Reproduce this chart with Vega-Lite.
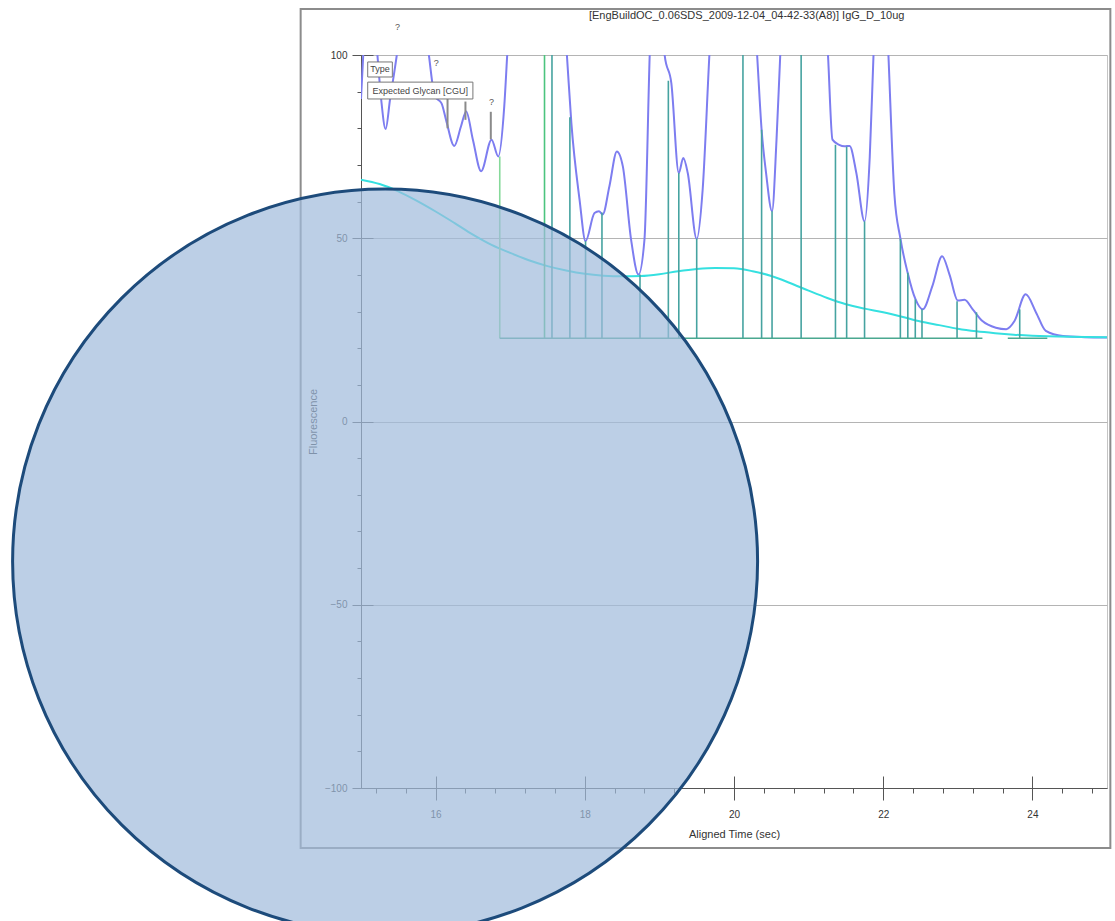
{
  "$schema": "https://vega.github.io/schema/vega-lite/v6.json",
  "width": 746,
  "height": 733,
  "autosize": {"type": "none"},
  "padding": {"left": 361, "top": 55, "right": 8, "bottom": 133},
  "background": "white",
  "config": {
    "view": {"stroke": "#c4c4c4", "strokeWidth": 1},
    "axis": {"labelFont": "Liberation Sans", "titleFont": "Liberation Sans", "labelColor": "#333333", "titleColor": "#333333", "titleFontWeight": "normal", "domainColor": "#555555", "tickColor": "#555555", "labelFontSize": 10, "titleFontSize": 11}
  },
  "datasets": {
    "signal": [
      {"t": 15.00, "f": 88}, {"t": 15.03, "f": 100}, {"t": 15.12, "f": 125}, {"t": 15.22, "f": 100},
      {"t": 15.27, "f": 88}, {"t": 15.33, "f": 79.8}, {"t": 15.39, "f": 88}, {"t": 15.48, "f": 100},
      {"t": 15.70, "f": 140}, {"t": 15.91, "f": 100}, {"t": 15.99, "f": 88.7}, {"t": 16.08, "f": 86.8},
      {"t": 16.14, "f": 82.3}, {"t": 16.25, "f": 75.2}, {"t": 16.34, "f": 80.5}, {"t": 16.41, "f": 84.6},
      {"t": 16.50, "f": 76.9}, {"t": 16.61, "f": 68.3}, {"t": 16.75, "f": 76.9}, {"t": 16.84, "f": 72.3},
      {"t": 16.92, "f": 85.9}, {"t": 16.96, "f": 100}, {"t": 17.30, "f": 200}, {"t": 17.76, "f": 100},
      {"t": 17.82, "f": 81.4}, {"t": 17.93, "f": 60.5}, {"t": 18.01, "f": 49.2}, {"t": 18.13, "f": 56.9},
      {"t": 18.19, "f": 57.4}, {"t": 18.24, "f": 56.5}, {"t": 18.33, "f": 64.2}, {"t": 18.43, "f": 73.7},
      {"t": 18.51, "f": 69.6}, {"t": 18.62, "f": 49.7}, {"t": 18.72, "f": 40.1}, {"t": 18.80, "f": 49.7},
      {"t": 18.87, "f": 100}, {"t": 18.97, "f": 150}, {"t": 19.07, "f": 100}, {"t": 19.16, "f": 92.3},
      {"t": 19.26, "f": 67.8}, {"t": 19.32, "f": 71.9}, {"t": 19.38, "f": 67.8}, {"t": 19.50, "f": 49.8},
      {"t": 19.58, "f": 63.3}, {"t": 19.67, "f": 100}, {"t": 20.00, "f": 200}, {"t": 20.31, "f": 100},
      {"t": 20.37, "f": 79.6}, {"t": 20.43, "f": 67.8}, {"t": 20.51, "f": 57.4}, {"t": 20.57, "f": 76.9},
      {"t": 20.62, "f": 100}, {"t": 20.95, "f": 200}, {"t": 21.26, "f": 100}, {"t": 21.32, "f": 76.9},
      {"t": 21.41, "f": 75.5}, {"t": 21.48, "f": 75.1}, {"t": 21.55, "f": 75.2}, {"t": 21.64, "f": 67.8},
      {"t": 21.75, "f": 54.6}, {"t": 21.82, "f": 72.3}, {"t": 21.87, "f": 100}, {"t": 21.97, "f": 150},
      {"t": 22.07, "f": 100}, {"t": 22.15, "f": 62}, {"t": 22.23, "f": 50}, {"t": 22.33, "f": 40.4},
      {"t": 22.43, "f": 33.5}, {"t": 22.53, "f": 30.6}, {"t": 22.66, "f": 37}, {"t": 22.79, "f": 45.1},
      {"t": 22.89, "f": 40}, {"t": 23.00, "f": 33}, {"t": 23.09, "f": 33.2}, {"t": 23.20, "f": 30.6},
      {"t": 23.33, "f": 27.4}, {"t": 23.51, "f": 25.6}, {"t": 23.65, "f": 25.2}, {"t": 23.76, "f": 27.4},
      {"t": 23.91, "f": 34.7}, {"t": 24.05, "f": 29.7}, {"t": 24.18, "f": 24.7}, {"t": 24.41, "f": 23.3},
      {"t": 24.70, "f": 23.0}, {"t": 25.00, "f": 22.9}
    ],
    "expected": [
      {"t": 15.00, "f": 66}, {"t": 15.25, "f": 64.8}, {"t": 15.50, "f": 62.8}, {"t": 15.75, "f": 60.2},
      {"t": 16.00, "f": 57.3}, {"t": 16.25, "f": 54.2}, {"t": 16.50, "f": 51}, {"t": 16.75, "f": 48.2},
      {"t": 17.00, "f": 46}, {"t": 17.25, "f": 44}, {"t": 17.50, "f": 42.4}, {"t": 17.75, "f": 41.2},
      {"t": 18.00, "f": 40.3}, {"t": 18.25, "f": 39.8}, {"t": 18.50, "f": 39.6}, {"t": 18.75, "f": 39.7},
      {"t": 19.00, "f": 40.2}, {"t": 19.25, "f": 41}, {"t": 19.50, "f": 41.6}, {"t": 19.75, "f": 41.9},
      {"t": 20.00, "f": 41.8}, {"t": 20.25, "f": 41.0}, {"t": 20.50, "f": 39.7}, {"t": 20.75, "f": 37.8},
      {"t": 21.00, "f": 35.7}, {"t": 21.25, "f": 33.7}, {"t": 21.50, "f": 32}, {"t": 21.75, "f": 30.8},
      {"t": 22.00, "f": 29.8}, {"t": 22.25, "f": 28.6}, {"t": 22.50, "f": 27.3}, {"t": 22.75, "f": 26.3},
      {"t": 23.00, "f": 25.3}, {"t": 23.25, "f": 24.6}, {"t": 23.50, "f": 24.1}, {"t": 23.75, "f": 23.7},
      {"t": 24.00, "f": 23.4}, {"t": 24.50, "f": 23.1}, {"t": 25.00, "f": 23.0}
    ],
    "peaks": [
      {"t": 16.86, "top": 72.3, "base": 22.7, "kind": "light"},
      {"t": 17.46, "top": 100, "base": 22.7, "kind": "green"},
      {"t": 17.56, "top": 100, "base": 22.7, "kind": "teal"},
      {"t": 17.80, "top": 83, "base": 22.7, "kind": "teal"},
      {"t": 18.01, "top": 49.2, "base": 22.7, "kind": "teal"},
      {"t": 18.23, "top": 57, "base": 22.7, "kind": "teal"},
      {"t": 18.74, "top": 40.1, "base": 22.7, "kind": "teal"},
      {"t": 19.12, "top": 93, "base": 22.7, "kind": "teal"},
      {"t": 19.26, "top": 67.8, "base": 22.7, "kind": "teal"},
      {"t": 19.50, "top": 49.9, "base": 22.7, "kind": "teal"},
      {"t": 20.12, "top": 100, "base": 22.7, "kind": "teal"},
      {"t": 20.37, "top": 79.6, "base": 22.7, "kind": "teal"},
      {"t": 20.51, "top": 57.4, "base": 22.7, "kind": "teal"},
      {"t": 20.90, "top": 100, "base": 22.7, "kind": "teal"},
      {"t": 21.36, "top": 75.5, "base": 22.7, "kind": "teal"},
      {"t": 21.51, "top": 75, "base": 22.7, "kind": "teal"},
      {"t": 21.75, "top": 54.6, "base": 22.7, "kind": "teal"},
      {"t": 22.23, "top": 49.8, "base": 22.7, "kind": "teal"},
      {"t": 22.33, "top": 40.6, "base": 22.7, "kind": "teal"},
      {"t": 22.43, "top": 33.3, "base": 22.7, "kind": "teal"},
      {"t": 22.52, "top": 30.6, "base": 22.7, "kind": "teal"},
      {"t": 22.99, "top": 32.8, "base": 22.7, "kind": "teal"},
      {"t": 23.25, "top": 29.8, "base": 22.7, "kind": "teal"},
      {"t": 23.83, "top": 30.6, "base": 22.7, "kind": "teal"}
    ],
    "baseline": [
      {"t1": 16.86, "t2": 23.33, "f": 22.7},
      {"t1": 23.67, "t2": 24.20, "f": 22.7}
    ],
    "stems": [
      {"t": 16.16, "f1": 88, "f2": 80},
      {"t": 16.40, "f1": 87.3, "f2": 82.3},
      {"t": 16.74, "f1": 84.5, "f2": 77}
    ],
    "marks": [
      {"t": 15.49, "f": 106.4, "label": "?"},
      {"t": 16.01, "f": 96.4, "label": "?"},
      {"t": 16.75, "f": 85.9, "label": "?"}
    ],
    "boxes": [
      {"x1": 15.09, "x2": 15.42, "y1": 98.1, "y2": 94.0, "xc": 15.255, "yc": 96.05, "label": "Type"},
      {"x1": 15.09, "x2": 16.50, "y1": 92.6, "y2": 88.0, "xc": 15.795, "yc": 90.3, "label": "Expected Glycan [CGU]"}
    ],
    "heading": [
      {"t": 20.17, "f": 110.6, "label": "[EngBuildOC_0.06SDS_2009-12-04_04-42-33(A8)] IgG_D_10ug"}
    ],
    "frame": [
      {"x1": 14.191, "x2": 25.045, "y1": 112.55, "y2": -116.4}
    ],
    "overlay": [
      {"cx": 15.323, "cy": -38.2}
    ]
  },
  "layer": [
    {
      "data": {"name": "frame"},
      "mark": {"type": "rect", "fill": "white", "fillOpacity": 0, "stroke": "#8c8c8c", "strokeWidth": 2, "clip": false},
      "encoding": {
        "x": {"field": "x1", "type": "quantitative", "scale": {"domain": [15, 25], "nice": false, "zero": false}, "axis": null},
        "x2": {"field": "x2"},
        "y": {"field": "y1", "type": "quantitative", "scale": {"domain": [-100, 100], "nice": false, "zero": false}, "axis": null},
        "y2": {"field": "y2"}
      }
    },
    {
      "data": {"name": "heading"},
      "mark": {"type": "text", "clip": false, "color": "#333333", "font": "Liberation Sans", "fontSize": 11, "align": "center", "baseline": "middle"},
      "encoding": {
        "x": {"field": "t", "type": "quantitative", "scale": {"domain": [15, 25], "nice": false, "zero": false}, "axis": null},
        "y": {"field": "f", "type": "quantitative", "scale": {"domain": [-100, 100], "nice": false, "zero": false}, "axis": null},
        "text": {"field": "label"}
      }
    },
    {
      "data": {"name": "signal"},
      "mark": {"type": "line", "clip": true, "interpolate": "monotone", "color": "#7d7df0", "strokeWidth": 2},
      "encoding": {
        "x": {"field": "t", "type": "quantitative", "scale": {"domain": [15, 25], "nice": false, "zero": false},
          "axis": {"orient": "bottom", "values": [16, 18, 20, 22, 24], "title": "Aligned Time (sec)", "tickSize": 12, "labelPadding": 9, "titlePadding": 9, "grid": false}},
        "y": {"field": "f", "type": "quantitative", "scale": {"domain": [-100, 100], "nice": false, "zero": false},
          "axis": {"orient": "left", "values": [100, 50, 0, -50, -100], "title": "Fluorescence", "tickSize": 9, "labelPadding": 5, "titlePadding": 6, "grid": true, "gridColor": "#b4b4b4"}}
      }
    },
    {
      "data": {"name": "expected"},
      "mark": {"type": "line", "clip": true, "interpolate": "monotone", "color": "#35e0e0", "strokeWidth": 2},
      "encoding": {
        "x": {"field": "t", "type": "quantitative", "scale": {"domain": [15, 25], "nice": false, "zero": false},
          "axis": {"orient": "bottom", "values": [16, 18, 20, 22, 24], "tickSize": -12, "labels": false, "domain": false, "title": null, "grid": false}},
        "y": {"field": "f", "type": "quantitative", "scale": {"domain": [-100, 100], "nice": false, "zero": false},
          "axis": {"orient": "left", "values": [100, 50, 0, -50, -100], "tickSize": -12, "labels": false, "domain": false, "title": null, "grid": false}}
      }
    },
    {
      "data": {"name": "peaks"},
      "mark": {"type": "rule", "clip": true, "strokeWidth": 1.6},
      "encoding": {
        "x": {"field": "t", "type": "quantitative", "scale": {"domain": [15, 25], "nice": false, "zero": false},
          "axis": {"orient": "bottom", "values": [15.2, 15.6, 16.4, 16.8, 17.2, 17.6, 18.4, 18.8, 19.2, 19.6, 20.4, 20.8, 21.2, 21.6, 22.4, 22.8, 23.2, 23.6, 24.4, 24.8], "tickSize": 5, "labels": false, "domain": false, "title": null, "grid": false}},
        "y": {"field": "top", "type": "quantitative", "scale": {"domain": [-100, 100], "nice": false, "zero": false},
          "axis": {"orient": "left", "values": [90, 80, 70, 60, 40, 30, 20, 10, -10, -20, -30, -40, -60, -70, -80, -90], "tickSize": 4, "labels": false, "domain": false, "title": null, "grid": false}},
        "y2": {"field": "base"},
        "color": {"field": "kind", "type": "nominal", "scale": {"domain": ["light", "green", "teal"], "range": ["#86d99a", "#4cc47e", "#46a3a0"]}, "legend": null}
      }
    },
    {
      "data": {"name": "baseline"},
      "mark": {"type": "rule", "clip": true, "color": "#4aa890", "strokeWidth": 1.6},
      "encoding": {
        "x": {"field": "t1", "type": "quantitative", "scale": {"domain": [15, 25], "nice": false, "zero": false}, "axis": null},
        "x2": {"field": "t2"},
        "y": {"field": "f", "type": "quantitative", "scale": {"domain": [-100, 100], "nice": false, "zero": false}, "axis": null}
      }
    },
    {
      "data": {"name": "stems"},
      "mark": {"type": "rule", "clip": false, "color": "#8a8a8a", "strokeWidth": 2},
      "encoding": {
        "x": {"field": "t", "type": "quantitative", "scale": {"domain": [15, 25], "nice": false, "zero": false}, "axis": null},
        "y": {"field": "f1", "type": "quantitative", "scale": {"domain": [-100, 100], "nice": false, "zero": false}, "axis": null},
        "y2": {"field": "f2"}
      }
    },
    {
      "data": {"name": "marks"},
      "mark": {"type": "text", "clip": false, "color": "#555555", "font": "Liberation Sans", "fontSize": 9, "baseline": "bottom"},
      "encoding": {
        "x": {"field": "t", "type": "quantitative", "scale": {"domain": [15, 25], "nice": false, "zero": false}, "axis": null},
        "y": {"field": "f", "type": "quantitative", "scale": {"domain": [-100, 100], "nice": false, "zero": false}, "axis": null},
        "text": {"field": "label"}
      }
    },
    {
      "data": {"name": "boxes"},
      "mark": {"type": "rect", "clip": false, "fill": "white", "stroke": "#777777", "strokeWidth": 1},
      "encoding": {
        "x": {"field": "x1", "type": "quantitative", "scale": {"domain": [15, 25], "nice": false, "zero": false}, "axis": null},
        "x2": {"field": "x2"},
        "y": {"field": "y1", "type": "quantitative", "scale": {"domain": [-100, 100], "nice": false, "zero": false}, "axis": null},
        "y2": {"field": "y2"}
      }
    },
    {
      "data": {"name": "boxes"},
      "mark": {"type": "text", "clip": false, "color": "#444444", "font": "Liberation Sans", "fontSize": 9, "align": "center", "baseline": "middle"},
      "encoding": {
        "x": {"field": "xc", "type": "quantitative", "scale": {"domain": [15, 25], "nice": false, "zero": false}, "axis": null},
        "y": {"field": "yc", "type": "quantitative", "scale": {"domain": [-100, 100], "nice": false, "zero": false}, "axis": null},
        "text": {"field": "label"}
      }
    },
    {
      "data": {"name": "overlay"},
      "mark": {"type": "point", "shape": "circle", "filled": true, "size": 555000, "fill": "#9fbbdc", "fillOpacity": 0.7, "stroke": "#1d4b7b", "strokeWidth": 3, "strokeOpacity": 1, "opacity": 1, "clip": false},
      "encoding": {
        "x": {"field": "cx", "type": "quantitative", "scale": {"domain": [15, 25], "nice": false, "zero": false}, "axis": null},
        "y": {"field": "cy", "type": "quantitative", "scale": {"domain": [-100, 100], "nice": false, "zero": false}, "axis": null}
      }
    }
  ],
  "resolve": {"axis": {"x": "independent", "y": "independent"}}
}
